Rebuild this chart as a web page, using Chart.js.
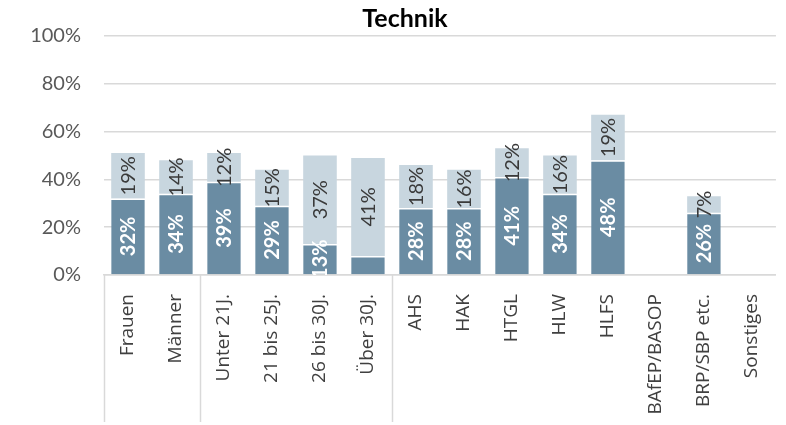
<!DOCTYPE html>
<html>
<head>
<meta charset="utf-8">
<script src="https://cdn.jsdelivr.net/npm/chart.js@4/dist/chart.umd.min.js"></script>
<style>
  html, body { margin: 0; padding: 0; background: #fff; }
  canvas { display: block; }
</style>
</head>
<body>
<canvas id="chart" width="786" height="425"></canvas>
<script>
// Kategorien und Werte (in %)
const categories = ['Frauen', 'Männer', 'Unter 21J.', '21 bis 25J.', '26 bis 30J.', 'Über 30J.',
  'AHS', 'HAK', 'HTGL', 'HLW', 'HLFS', 'BAfEP/BASOP', 'BRP/SBP etc.', 'Sonstiges'];
const darkValues = [32, 34, 39, 29, 13, 8, 28, 28, 41, 34, 48, null, 26, null];
const lightValues = [19, 14, 12, 15, 37, 41, 18, 16, 12, 16, 19, null, 7, null];
const yTicks = [0, 20, 40, 60, 80, 100];
// Trennlinien zwischen den Gruppen (Geschlecht / Alter / Schule)
const groupBreaks = [-0.5, 1.5, 5.5];

const FONT = 'Lato, "Open Sans", sans-serif';
const LABEL_FONT = '"Open Sans", Lato, sans-serif';

// Beschriftung der Balkensegmente
const segmentLabels = {
  id: 'segmentLabels',
  afterDatasetsDraw(chart) {
    const { ctx, chartArea } = chart;
    ctx.save();
    ctx.beginPath();
    ctx.rect(chartArea.left, chartArea.top, chartArea.right - chartArea.left, chartArea.bottom - chartArea.top);
    ctx.clip();
    chart.data.datasets.forEach((ds, di) => {
      const meta = chart.getDatasetMeta(di);
      meta.data.forEach((bar, i) => {
        const v = ds.data[i];
        if (v == null) return;
        if (di === 0 && v < 10) return; // kleine Segmente ohne Beschriftung
        const { x, y, base } = bar.getProps(['x', 'y', 'base'], true);
        ctx.save();
        ctx.translate(x + 1, (y + base) / 2);
        ctx.rotate(-Math.PI / 2);
        ctx.textAlign = 'center';
        ctx.textBaseline = 'middle';
        ctx.font = di === 0 ? 'bold 20px ' + FONT : '20px ' + FONT;
        ctx.fillStyle = di === 0 ? '#ffffff' : '#3a3a3a';
        ctx.fillText(v + '%', 0, 0);
        ctx.restore();
      });
    });
    ctx.restore();
  }
};

// Vertikale Trennlinien im Achsenbereich
const groupLines = {
  id: 'groupLines',
  afterDraw(chart) {
    const { ctx } = chart;
    const xs = chart.scales.x;
    ctx.save();
    ctx.strokeStyle = '#d9d9d9';
    ctx.lineWidth = 1.5;
    groupBreaks.forEach(b => {
      const px = Math.round(xs.getPixelForValue(b)) + 0.5;
      ctx.beginPath();
      ctx.moveTo(px, xs.top);
      ctx.lineTo(px, xs.bottom - 3);
      ctx.stroke();
    });
    ctx.restore();
  }
};

new Chart(document.getElementById('chart'), {
  type: 'bar',
  data: {
    labels: categories,
    datasets: [
      {
        data: darkValues,
        backgroundColor: '#6a8ca3',
        borderColor: '#ffffff',
        borderWidth: { top: 1.5 },
        borderSkipped: 'bottom',
        categoryPercentage: 1,
        barPercentage: 0.7
      },
      {
        data: lightValues,
        backgroundColor: '#c8d6df',
        borderWidth: 0,
        categoryPercentage: 1,
        barPercentage: 0.7
      }
    ]
  },
  options: {
    responsive: false,
    animation: false,
    layout: { padding: { left: 31, right: 7, top: 0, bottom: 0 } },
    plugins: {
      legend: { display: false },
      tooltip: { enabled: false },
      title: {
        display: true,
        text: 'Technik',
        color: '#000000',
        font: { family: FONT, size: 25, weight: 'bold' },
        padding: { top: 4, bottom: 2 }
      }
    },
    scales: {
      x: {
        stacked: true,
        grid: { display: false },
        border: { display: true, color: '#d9d9d9', width: 1.5 },
        ticks: {
          autoSkip: false,
          maxRotation: 90,
          minRotation: 90,
          padding: 11,
          color: '#404040',
          font: { family: LABEL_FONT, size: 19 }
        },
        afterFit(scale) { scale.height = 150; }
      },
      y: {
        stacked: true,
        min: 0,
        max: 100,
        afterBuildTicks(scale) { scale.ticks = yTicks.map(v => ({ value: v })); },
        grid: { color: '#d9d9d9', lineWidth: 1.5, drawTicks: false },
        border: { display: false },
        ticks: {
          padding: 23,
          color: '#595959',
          font: { family: FONT, size: 20 },
          callback: v => v + '%'
        },
        afterFit(scale) { scale.width = 73; }
      }
    }
  },
  plugins: [segmentLabels, groupLines]
});
</script>
</body>
</html>
